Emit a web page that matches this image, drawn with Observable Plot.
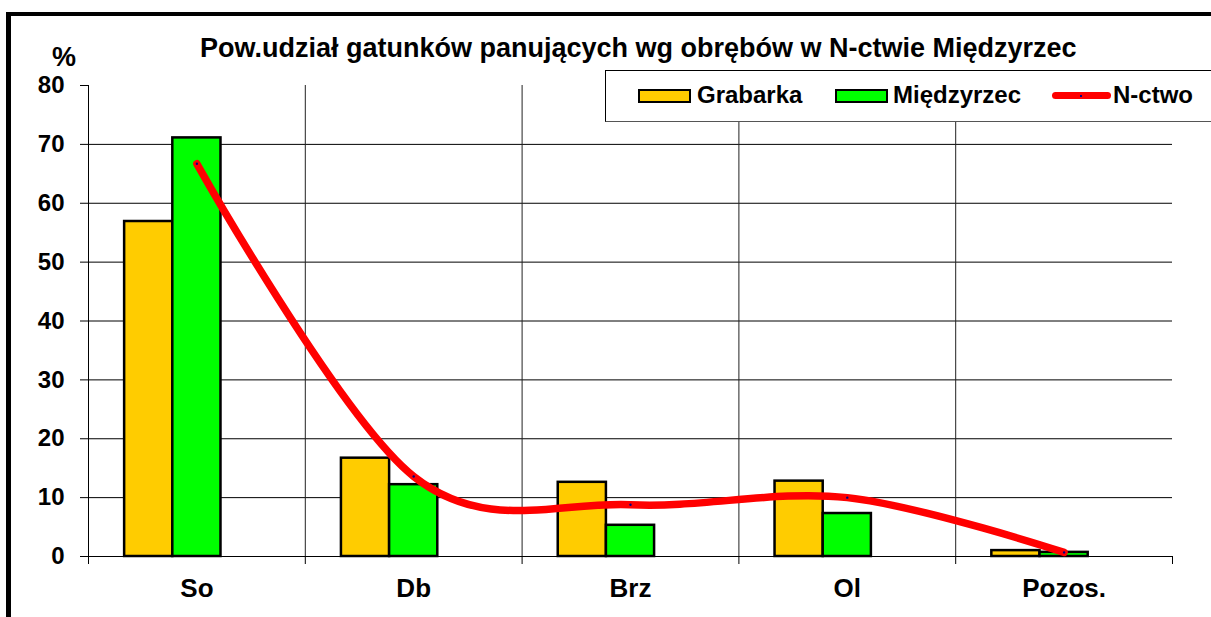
<!DOCTYPE html>
<html>
<head>
<meta charset="utf-8">
<script src="https://cdn.jsdelivr.net/npm/d3@7"></script>
<script src="https://cdn.jsdelivr.net/npm/@observablehq/plot@0.6"></script>
<style>
  body { margin: 0; background: #fff; }
  #wrap { position: relative; width: 1211px; height: 617px; overflow: hidden;
          font-family: Arial, "Liberation Sans", sans-serif; font-weight: bold; color: #000; }
  #chart { position: absolute; left: 0; top: 0; }
  .abs { position: absolute; white-space: nowrap; line-height: 24px; font-size: 24px; }
  #frameTop { position: absolute; left: 6px; top: 12px; width: 1300px; height: 4px; background: #000; }
  #frameLeft { position: absolute; left: 6px; top: 12px; width: 5px; height: 700px; background: #000; }
  #legendBox { position: absolute; left: 605px; top: 70px; width: 700px; height: 50px;
               border: 1px solid #000; border-bottom-color: #555; background: #fff; }
  .swatch { position: absolute; box-sizing: border-box; border: 2px solid #000; height: 14px; width: 53px; top: 89px; }
  #lineSwatch { position: absolute; left: 1052px; top: 92px; width: 59px; height: 7px; border-radius: 4px; background: #FF0000; }
  #lineDot { position: absolute; left: 1080px; top: 95px; width: 2px; height: 2px; background: #000080; }
</style>
</head>
<body>
<div id="wrap">
  <div id="chart"></div>
  <div id="frameTop"></div>
  <div id="frameLeft"></div>
  <div id="title" class="abs" style="left:200px; top:35px; font-size:27px; line-height:27px;"></div>
  <div id="unit" class="abs" style="left:52px; top:44px; font-size:27px; line-height:27px;"></div>
  <div id="legendBox"></div>
  <div id="legend"></div>
</div>
<script>
const titleText = "Pow.udział gatunków panujących wg obrębów w N-ctwie Międzyrzec";
const unitText = "%";
const categories = ["So", "Db", "Brz", "Ol", "Pozos."];
const seriesNames = ["Grabarka", "Międzyrzec", "N-ctwo"];
const grabarka = [56.9, 16.7, 12.6, 12.8, 1.0];
const miedzyrzec = [71.1, 12.2, 5.3, 7.3, 0.7];
const nctwo = [66.7, 13.6, 8.8, 10.0, 0.7];
const yTicks = [0, 10, 20, 30, 40, 50, 60, 70, 80];
const gridValues = [10, 20, 30, 40, 50, 60, 70];
const colors = ["#FFCC00", "#00FF00", "#FF0000"];

// Excel-like clustered layout: 3 slots per category (3rd series is a line), gap width 150%
const slot = 1 / 4.5;
const barRows = [];
categories.forEach((c, i) => {
  barRows.push({cat: c, i, k: 0, series: seriesNames[0], value: grabarka[i]});
  barRows.push({cat: c, i, k: 1, series: seriesNames[1], value: miedzyrzec[i]});
});
const lineRows = categories.map((c, i) => ({cat: c, i, value: nctwo[i]}));
const boundaries = d3.range(categories.length + 1);
const inner = boundaries.slice(1, -1);
const centers = categories.map((_, i) => i + 0.5);

const chart = Plot.plot({
  width: 1211,
  height: 617,
  marginLeft: 88,
  marginRight: 39,
  marginTop: 85,
  marginBottom: 61,
  style: {fontFamily: 'Arial, "Liberation Sans", sans-serif', fontSize: "24px", fontWeight: "bold",
          color: "#000", background: "transparent", overflow: "visible"},
  x: {type: "linear", domain: [0, categories.length], axis: null},
  y: {domain: [0, 80], axis: null},
  marks: [
    Plot.ruleY(gridValues, {stroke: "#000", strokeWidth: 1}),
    Plot.ruleX(inner, {y1: 0, y2: 80, stroke: "#222", strokeWidth: 1}),
    Plot.ruleX([0], {y1: 0, y2: 80, stroke: "#000", strokeWidth: 1}),
    Plot.rectY(barRows, {
      x1: d => d.i + slot * (0.75 + d.k),
      x2: d => d.i + slot * (1.75 + d.k),
      y1: 0, y2: "value",
      fill: d => colors[d.k],
      stroke: "#000", strokeWidth: 2.5
    }),
    Plot.ruleY([0], {stroke: "#000", strokeWidth: 1}),
    Plot.axisY({ticks: yTicks, tickSize: 8, tickPadding: 16, tickFormat: d => String(d), label: null}),
    Plot.axisX({ticks: boundaries, tickSize: 8, tickFormat: () => "", label: null}),
    Plot.axisX({ticks: centers, tickSize: 0, tickPadding: 22, fontSize: 26,
      tickFormat: v => categories[Math.floor(v)], label: null}),
    Plot.line(lineRows, {x: d => d.i + 0.5, y: "value", stroke: colors[2], strokeWidth: 7.5,
      curve: "cardinal", tension: 0, strokeLinecap: "round", strokeLinejoin: "round"}),
    Plot.dot(lineRows, {x: d => d.i + 0.5, y: "value", r: 1.2, fill: "#000080", stroke: "none"})
  ]
});
document.getElementById("chart").appendChild(chart);
document.getElementById("title").textContent = titleText;
document.getElementById("unit").textContent = unitText;

// legend
const legend = document.getElementById("legend");
const legendPos = [{sw: 638, tx: 697}, {sw: 835, tx: 893}, {sw: 1052, tx: 1113}];
seriesNames.forEach((name, k) => {
  if (k < 2) {
    const s = document.createElement("div");
    s.className = "swatch";
    s.style.left = legendPos[k].sw + "px";
    s.style.background = colors[k];
    legend.appendChild(s);
  } else {
    const s = document.createElement("div");
    s.id = "lineSwatch";
    legend.appendChild(s);
    const d = document.createElement("div");
    d.id = "lineDot";
    legend.appendChild(d);
  }
  const t = document.createElement("div");
  t.className = "abs";
  t.style.left = legendPos[k].tx + "px";
  t.style.top = "83px";
  t.textContent = name;
  legend.appendChild(t);
});
</script>
</body>
</html>
